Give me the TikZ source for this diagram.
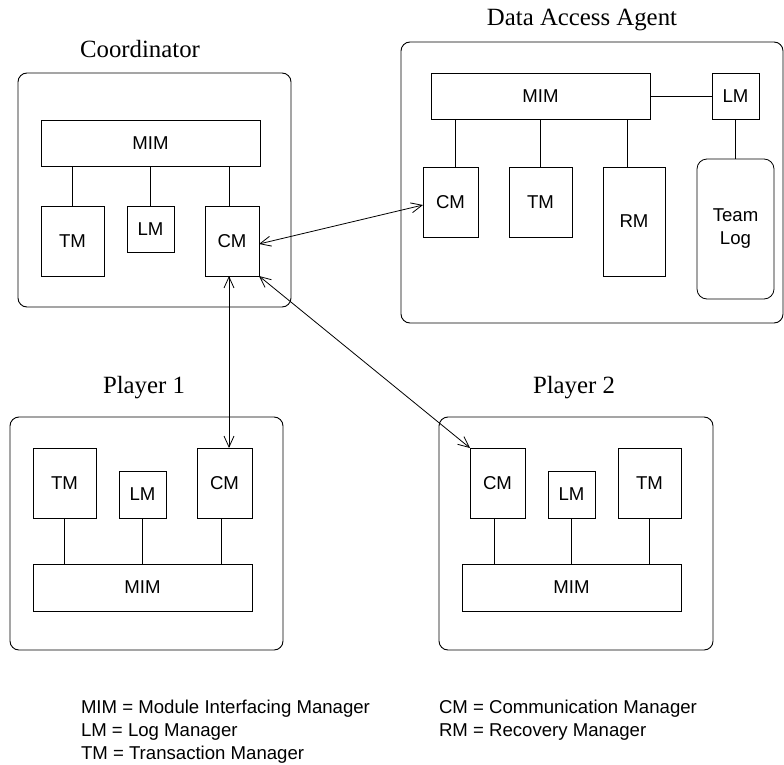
\documentclass[tikz,border=0pt]{standalone}
\usepackage{fontspec}
\setmainfont{Liberation Sans}
\newfontfamily\titlefont{Liberation Serif}
\usetikzlibrary{arrows.meta}
\begin{document}
\begin{tikzpicture}[x=1bp,y=-1bp,
  every node/.style={font=\fontsize{18.6bp}{23bp}\selectfont, inner sep=0pt, outer sep=0pt},
  sz/.style 2 args={minimum width=#1bp, minimum height=#2bp},
  box/.style={draw, line width=0.8bp},
  outer/.style={draw, line width=0.9bp, rounded corners=9bp},
  logbox/.style={draw, line width=0.8bp, rounded corners=10bp, align=center},
  lnk/.style={line width=0.8bp},
  arr/.style={line width=0.8bp, {Straight Barb[length=11bp,width=10bp]}-{Straight Barb[length=11bp,width=10bp]}},
  title/.style={font=\titlefont\fontsize{24.8bp}{28bp}\selectfont, anchor=base},
  legend/.style={anchor=base west}]
\useasboundingbox (0,0) rectangle (784,765);

% outer containers
\node[outer, sz={273}{234}] (coord) at (154.5,190) {};
\node[outer, sz={382}{281}] (daa) at (592,182.5) {};
\node[outer, sz={273}{233}] (pl1) at (146.5,533.5) {};
\node[outer, sz={274}{233}] (pl2) at (576,533.5) {};

% titles
\node[title] (tcoord) at (140,58) {Coordinator};
\node[title] (tdaa) at (582,26) {Data Access Agent};
\node[title] (tp1) at (144,393) {Player 1};
\node[title] (tp2) at (574,393) {Player 2};

% Coordinator
\node[box, sz={219}{46}] (cmim) at (150.5,143) {MIM};
\node[box, sz={63}{70}] (ctm) at (72.5,241) {TM};
\node[box, sz={47}{46}] (clm) at (150.5,229) {LM};
\node[box, sz={54}{70}] (ccm) at (232,241) {CM};

% Data Access Agent
\node[box, sz={219}{46}] (dmim) at (540.5,96) {MIM};
\node[box, sz={47}{46}] (dlm) at (735.5,96) {LM};
\node[box, sz={55}{70}] (dcm) at (450.5,202) {CM};
\node[box, sz={63}{70}] (dtm) at (540.5,202) {TM};
\node[box, sz={62}{109}] (drm) at (634,221.5) {RM};
\node[logbox, sz={77}{140}] (dlog) at (735.5,229) {Team\\Log};

% Player 1
\node[box, sz={63}{70}] (p1tm) at (64.5,483) {TM};
\node[box, sz={47}{47}] (p1lm) at (142.5,494.5) {LM};
\node[box, sz={55}{70}] (p1cm) at (224.5,483) {CM};
\node[box, sz={219}{47}] (p1mim) at (142.5,587.5) {MIM};

% Player 2
\node[box, sz={55}{70}] (p2cm) at (497.5,483) {CM};
\node[box, sz={47}{47}] (p2lm) at (571.5,494.5) {LM};
\node[box, sz={63}{70}] (p2tm) at (649.5,483) {TM};
\node[box, sz={219}{47}] (p2mim) at (571.5,587.5) {MIM};

% helper x positions
\coordinate (xc) at (229,0);
\coordinate (xd1) at (455,0);
\coordinate (xd3) at (627,0);
\coordinate (xp1) at (221,0);
\coordinate (xp2) at (494,0);

% internal links
\draw[lnk] (cmim.south -| ctm.north) -- (ctm.north);
\draw[lnk] (cmim.south -| clm.north) -- (clm.north);
\draw[lnk] (cmim.south -| xc) -- (ccm.north -| xc);

\draw[lnk] (dmim.south -| xd1) -- (dcm.north -| xd1);
\draw[lnk] (dmim.south -| dtm.north) -- (dtm.north);
\draw[lnk] (dmim.south -| xd3) -- (drm.north -| xd3);
\draw[lnk] (dmim.east) -- (dlm.west);
\draw[lnk] (dlm.south) -- (dlog.north);

\draw[lnk] (p1tm.south) -- (p1mim.north -| p1tm.south);
\draw[lnk] (p1lm.south) -- (p1mim.north -| p1lm.south);
\draw[lnk] (p1cm.south -| xp1) -- (p1mim.north -| xp1);

\draw[lnk] (p2cm.south -| xp2) -- (p2mim.north -| xp2);
\draw[lnk] (p2lm.south) -- (p2mim.north -| p2lm.south);
\draw[lnk] (p2tm.south) -- (p2mim.north -| p2tm.south);

% communication arrows
\draw[arr] ([yshift=-3bp]ccm.east) -- ([yshift=-3bp]dcm.west);
\draw[arr] (ccm.south -| xc) -- (p1cm.north -| xc);
\draw[arr] (ccm.south east) -- (p2cm.north west);

% legend
\node[legend] (l1) at (81,713) {MIM = Module Interfacing Manager};
\node[legend] (l2) at (81,736) {LM = Log Manager};
\node[legend] (l3) at (81,759) {TM = Transaction Manager};
\node[legend] (l4) at (439,713) {CM = Communication Manager};
\node[legend] (l5) at (439,736) {RM = Recovery Manager};
\end{tikzpicture}
\end{document}
